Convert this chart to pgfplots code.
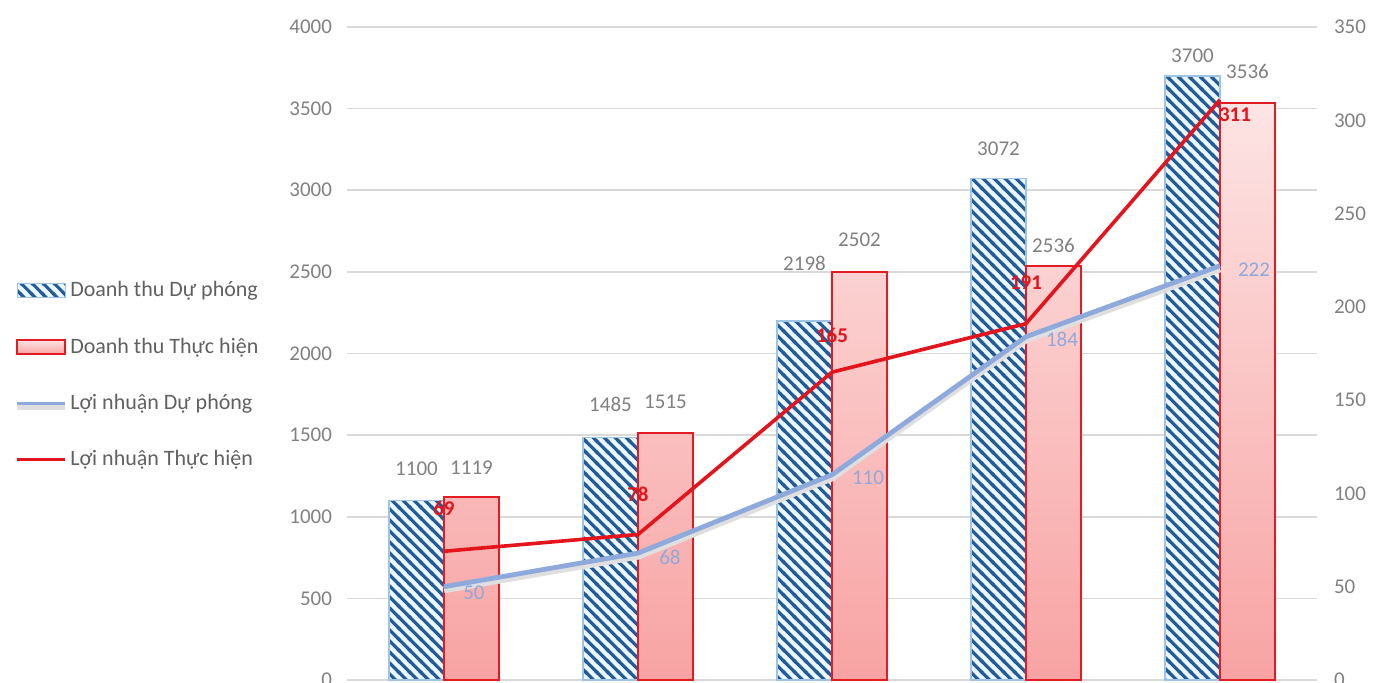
\documentclass[border=0pt]{standalone}
\usepackage{fontspec}
\setmainfont{Carlito}
\usepackage{pgfplots}
\usepackage{pgfplotstable}
\pgfplotsset{compat=1.18}
\usetikzlibrary{patterns.meta}

\definecolor{hatchblue}{HTML}{1F5C99}
\definecolor{hatchbg}{HTML}{EEF6FD}
\definecolor{hatchedge}{HTML}{9DC3E6}
\definecolor{barred}{HTML}{E31B23}
\definecolor{bartop}{HTML}{FDE4E4}
\definecolor{barbot}{HTML}{F8A3A3}
\definecolor{lineblue}{HTML}{8EA9DB}
\definecolor{linered}{HTML}{E3141B}
\definecolor{ticktext}{HTML}{808080}
\definecolor{legtext}{HTML}{606060}
\definecolor{gridgray}{HTML}{D9D9D9}

\tikzdeclarepattern{
  name=diaglines,
  type=uncolored,
  bottom left={(0pt,0pt)},
  top right={(5.4pt,5.4pt)},
  tile size={(5.4pt,5.4pt)},
  code={
    \draw[line width=1.55pt] (-1pt,6.4pt) -- (6.4pt,-1pt);
    \draw[line width=1.55pt] (-1pt,1pt) -- (1pt,-1pt);
    \draw[line width=1.55pt] (4.4pt,6.4pt) -- (6.4pt,4.4pt);
  }
}

\pgfplotsset{
  /pgf/number format/assume math mode=true,
  /pgf/number format/1000 sep={},
}

\pgfplotstableread{
x du dudy th thdy
0 1100 16 1119 15
1 1485 16.5 1515 15.5
2 2198 29 2502 16
3 3072 15 2536 10.5
4 3700 10 3536 15.5
}\revenue

\pgfplotstableread{
x pl dx dy
0 50 15 -3
1 68 16 -2
2 110 18 -1.5
3 184 18 -1.5
4 222 17 -2
}\profitplan

\pgfplotstableread{
x pr dx dy
0 69 0 21.5
1 78 0 20
2 165 0 18.5
3 191 0 20.5
4 311 7.5 -7.5
}\profitreal

\begin{document}
\begin{tikzpicture}
\begin{axis}[
  scale only axis, width=485pt, height=326.5pt,
  xmin=-0.5, xmax=4.5, ymin=0, ymax=4000,
  xtick=\empty,
  ytick={0,500,...,4000},
  scaled y ticks=false,
  axis line style={draw=none},
  major tick style={draw=none},
  ymajorgrids, grid style={gridgray, line width=0.8pt},
  yticklabel style={text=ticktext, font=\fontsize{10.5}{12}\selectfont, xshift=-4pt},
  ybar=0pt, bar width=27.5pt,
  nodes near coords,
  nodes near coords style={anchor=center, text=ticktext, font=\fontsize{10.5}{12}\selectfont},
  clip=false,
]
\addplot[fill=hatchbg, draw=hatchedge, line width=0.7pt,
  postaction={pattern=diaglines, pattern color=hatchblue},
  visualization depends on={\thisrow{dudy} \as \dy},
  nodes near coords style={yshift=\dy pt}]
  table[x=x, y=du] \revenue;
\addplot[top color=bartop, bottom color=barbot, draw=barred, line width=1pt,
  visualization depends on={\thisrow{thdy} \as \dy},
  nodes near coords style={yshift=\dy pt}]
  table[x=x, y=th] \revenue;
\end{axis}

\begin{axis}[
  scale only axis, width=485pt, height=326.5pt,
  xmin=-0.5, xmax=4.5, ymin=0, ymax=350,
  xtick=\empty,
  ytick={0,50,...,350},
  axis y line*=right, axis x line=none,
  axis line style={draw=none},
  major tick style={draw=none},
  yticklabel style={text=ticktext, font=\fontsize{10.5}{12}\selectfont, xshift=5pt},
  clip=false,
  legend style={at={(axis description cs:-0.342,0.467)}, anchor=west,
    draw=none, fill=none, row sep=16pt,
    font=\fontsize{11}{13}\selectfont, text=legtext,
    inner sep=0pt, nodes={inner sep=1.5pt}},
  legend cell align=left,
]
\addlegendimage{legend image code/.code={\draw[fill=hatchbg, draw=hatchedge, line width=0.6pt, postaction={pattern=diaglines, pattern color=hatchblue}] (0pt,-3.5pt) rectangle (24pt,3.5pt);}}
\addlegendentry{Doanh thu Dự phóng}
\addlegendimage{legend image code/.code={\draw[top color=bartop, bottom color=barbot, draw=barred, line width=1pt] (0pt,-3.5pt) rectangle (24pt,3.5pt);}}
\addlegendentry{Doanh thu Thực hiện}

\addplot[lineblue, line width=2.4pt, line join=round,
  preaction={draw=gray!25, line width=3.5pt, transform canvas={yshift=-1.5pt}},
  nodes near coords,
  visualization depends on={\thisrow{dx} \as \dx},
  visualization depends on={\thisrow{dy} \as \dy},
  nodes near coords style={anchor=center, xshift=\dx pt, yshift=\dy pt, text=lineblue, font=\fontsize{10.5}{12}\selectfont},
  legend image code/.code={\draw[lineblue, line width=1.6pt] (0pt,0pt) -- (24pt,0pt);}]
  table[x=x, y=pl] \profitplan;
\addlegendentry{Lợi nhuận Dự phóng}

\addplot[linered, line width=1.8pt, line join=round,
  nodes near coords,
  visualization depends on={\thisrow{dx} \as \dx},
  visualization depends on={\thisrow{dy} \as \dy},
  nodes near coords style={anchor=center, xshift=\dx pt, yshift=\dy pt, text=linered, font=\fontsize{10.5}{12}\selectfont\bfseries},
  legend image code/.code={\draw[linered, line width=1.8pt] (0pt,0pt) -- (24pt,0pt);}]
  table[x=x, y=pr] \profitreal;
\addlegendentry{Lợi nhuận Thực hiện}
\end{axis}
\pgfresetboundingbox
\path[use as bounding box] (-173.5pt,-1pt) rectangle (520pt,340pt);
\end{tikzpicture}
\end{document}
